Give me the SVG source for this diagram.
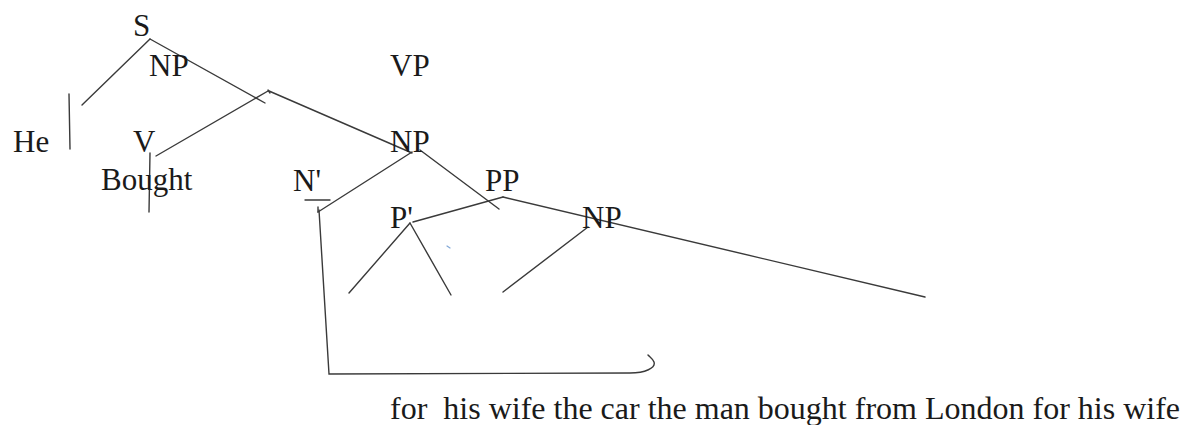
<svg xmlns="http://www.w3.org/2000/svg" width="1181" height="425" viewBox="0 0 1181 425">
<style>
text{font-family:"Liberation Serif","Times New Roman",serif;font-size:31px;fill:#1a1a1a}
.big{font-size:32px}
#connectors line,#connectors path{stroke:#3a3a3a;stroke-width:1.4;fill:none;stroke-linecap:round}
</style>
<rect width="1181" height="425" fill="#ffffff"/>
<g id="connectors">
<line x1="150" y1="39" x2="82" y2="105"/>
<line x1="150" y1="39" x2="265" y2="103"/>
<line x1="69" y1="94" x2="70" y2="149"/>
<line x1="156" y1="156" x2="268" y2="91"/>
<line x1="268" y1="90" x2="270" y2="93"/>
<line x1="269" y1="91" x2="412" y2="153"/>
<line x1="150" y1="153" x2="149" y2="212"/>
<line x1="305" y1="200" x2="330" y2="200"/>
<line x1="412" y1="152" x2="318" y2="212"/>
<line x1="318" y1="207" x2="318" y2="212"/>
<line x1="420" y1="150" x2="499" y2="209"/>
<line x1="503" y1="197" x2="413" y2="222"/>
<line x1="503" y1="197" x2="925" y2="297"/>
<line x1="410" y1="223" x2="349" y2="293"/>
<line x1="410" y1="223" x2="451" y2="295"/>
<line x1="588" y1="227" x2="503" y2="292"/>
<path d="M319,210 L329,374 L630,373 C645,373 656,368 654,362 C653,359 650,357 648,355"/>
<line x1="447" y1="246" x2="450" y2="248" style="stroke:#7fa6d6;stroke-width:1.2"/>
</g>
<g id="node-S"><text x="133" y="36">S</text></g>
<g id="node-NP1"><text x="149" y="76">NP</text></g>
<g id="node-VP"><text x="390" y="76">VP</text></g>
<g id="node-He"><text x="13" y="152">He</text></g>
<g id="node-V"><text x="133" y="152">V</text></g>
<g id="node-Bought"><text x="101" y="190">Bought</text></g>
<g id="node-NP2"><text x="390" y="152">NP</text></g>
<g id="node-Nbar"><text x="293" y="191">N'</text></g>
<g id="node-PP"><text x="485" y="191">PP</text></g>
<g id="node-Pbar"><text x="390" y="228">P'</text></g>
<g id="node-NP3"><text x="582" y="228">NP</text></g>
<g id="sentence"><text class="big" x="390" y="419" xml:space="preserve">for  his wife the car the man bought from London for his wife</text></g>
</svg>
